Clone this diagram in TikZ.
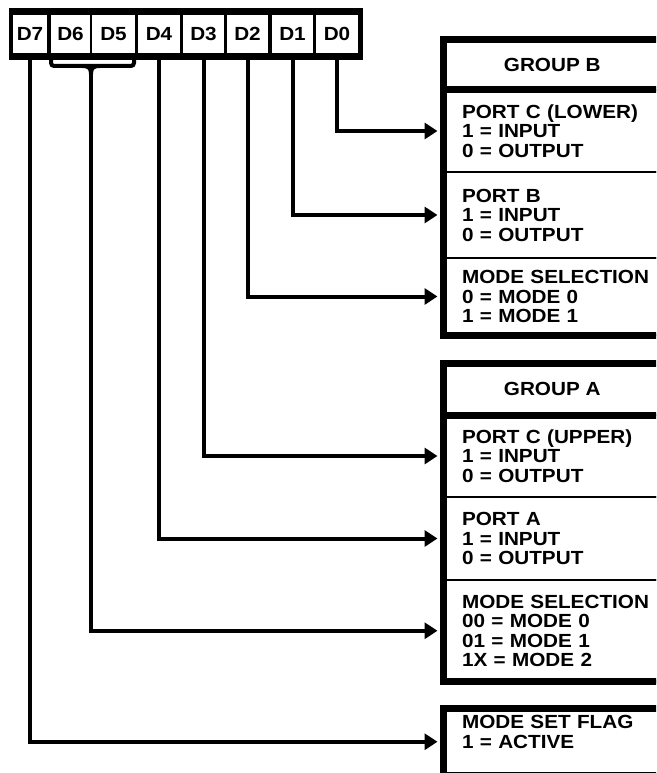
\documentclass[tikz,border=0pt]{standalone}
\usepackage{fontspec}
\setmainfont{Liberation Sans}[FakeStretch=1.09]
\usetikzlibrary{arrows.meta, positioning}

\begin{document}
\begin{tikzpicture}[x=1pt, y=-1pt,
  every node/.style={font=\bfseries\fontsize{19}{19.5}\selectfont, outer sep=0pt},
  bitcell/.style={fill=white, inner sep=0pt, minimum height=38pt},
  sect/.style={draw, line width=2.5pt, inner xsep=18.5pt, text width=199.5pt, align=left},
  hdr/.style={inner sep=0pt, minimum width=217.5pt, align=center},
  frame/.style={line width=7pt},
  wire/.style={line width=4pt},
  arr/.style={wire, -{Triangle[length=13pt,width=16pt]}, shorten >=6pt}
]
  \useasboundingbox (0,0) rectangle (656,773);
  \clip (0,0) rectangle (656,773);

  % Control word
  \fill (9,8) rectangle (363,60);
  \foreach \bit/\cx/\cw in {7/30/34, 6/70.5/39, 5/113.5/43, 4/159/42,
                            3/203.5/41, 2/247.5/41, 1/292.5/41, 0/337/42}
    \node[bitcell, minimum width=\cw pt] (d\bit) at (\cx,34) {D\bit};

  % Group B
  \node[hdr, minimum height=50.5pt, anchor=north west] (hdrB) at (443.5,39.5) {GROUP B};
  \node[sect, minimum height=82pt, below=0pt of hdrB.south west, anchor=north west] (pclB)
    {PORT C (LOWER)\\1 = INPUT\\0 = OUTPUT};
  \node[sect, minimum height=86pt, below=0pt of pclB] (pbB)
    {PORT B\\1 = INPUT\\0 = OUTPUT};
  \node[sect, minimum height=77pt, below=0pt of pbB] (msB)
    {MODE SELECTION\\0 = MODE 0\\1 = MODE 1};
  \draw[frame] (hdrB.north west) rectangle (msB.south east);
  \draw[frame] (hdrB.south west) -- (pclB.north east);

  % Group A
  \node[hdr, minimum height=51.5pt, anchor=north west] (hdrA) at (443.5,363.5) {GROUP A};
  \node[sect, minimum height=82pt, below=0pt of hdrA.south west, anchor=north west] (pcuA)
    {PORT C (UPPER)\\1 = INPUT\\0 = OUTPUT};
  \node[sect, minimum height=83pt, below=0pt of pcuA] (paA)
    {PORT A\\1 = INPUT\\0 = OUTPUT};
  \node[sect, minimum height=101.5pt, below=0pt of paA] (msA)
    {MODE SELECTION\\00 = MODE 0\\01 = MODE 1\\1X = MODE 2};
  \draw[frame] (hdrA.north west) rectangle (msA.south east);
  \draw[frame] (hdrA.south west) -- (pcuA.north east);

  % Mode set flag
  \node[sect, frame, minimum height=66.5pt, anchor=north west] (msf) at (443.5,708.5)
    {MODE SET FLAG\\1 = ACTIVE\\\mbox{}};

  % Brace under D6 D5
  \draw[wire, rounded corners=3pt] (51,58) |- (134,66) -- (134,58);
  \draw[wire] (82,66) .. controls (89,66) and (91,68) .. (91,74);
  \draw[wire] (100,66) .. controls (93,66) and (91,68) .. (91,74);
  \coordinate (brace) at (91,72);

  % Bit connectors
  \draw[arr] (d0.south) |- (pclB.west);
  \draw[arr] (d1.south) |- (pbB.west);
  \draw[arr] (d2.south) |- (msB.west);
  \draw[arr] (d3.south) |- (pcuA.west);
  \draw[arr] (d4.south) |- (paA.west);
  \draw[arr] (brace) |- (msA.west);
  \draw[arr] (d7.south) |- (msf.west);
\end{tikzpicture}
\end{document}
